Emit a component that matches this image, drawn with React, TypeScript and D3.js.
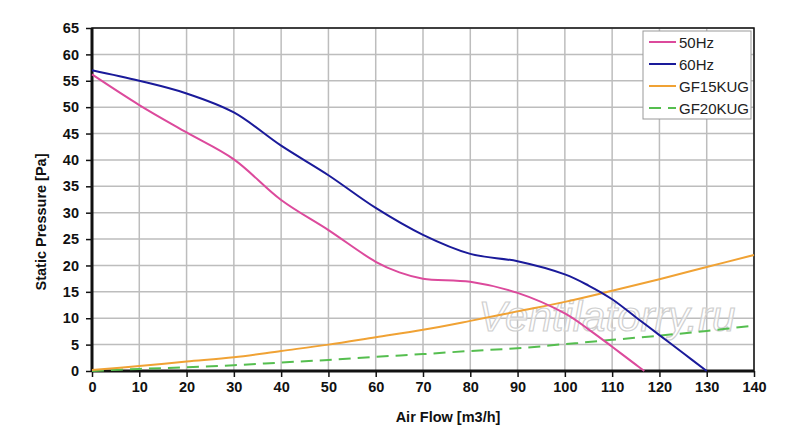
import { useRef, useEffect } from 'react';
import * as d3 from 'd3';

// Airflow points (m3/h) for each curve
const flow50 = [0, 10, 20, 30, 40, 50, 60, 65, 70, 80, 90, 100, 105, 110, 115, 116.8];
const pressure50 = [56.2, 50.4, 45.2, 40.1, 32.4, 26.7, 20.7, 18.7, 17.5, 16.9, 14.8, 10.9, 7.9, 4.6, 1.2, 0];

const flow60 = [0, 10, 20, 30, 40, 50, 60, 70, 80, 90, 100, 105, 110, 115, 120, 125, 130];
const pressure60 = [57, 55, 52.6, 49, 42.7, 37.1, 30.9, 25.8, 22.2, 20.8, 18.3, 16.2, 13.6, 10.2, 6.8, 3.4, 0];

const flowSys = [0, 10, 20, 30, 40, 50, 60, 70, 80, 90, 100, 110, 120, 130, 140];
const pressureGF15 = [0.2, 0.95, 1.8, 2.6, 3.8, 5.0, 6.4, 7.8, 9.5, 11.3, 13.1, 15.2, 17.4, 19.7, 22];
const pressureGF20 = [0, 0.4, 0.7, 1.1, 1.6, 2.1, 2.7, 3.2, 3.8, 4.3, 5.1, 5.9, 6.7, 7.6, 8.6];

const xTicks = d3.range(0, 141, 10);
const yTicks = d3.range(0, 66, 5);

const seriesNames = ['50Hz', '60Hz', 'GF15KUG', 'GF20KUG'];
const seriesColors = ['#dc4a9c', '#1a1a9a', '#f0a234', '#55be4f'];

export default function App() {
  const svgRef = useRef<SVGSVGElement>(null);

  useEffect(() => {
    if (!svgRef.current) return;
    const svg = d3.select(svgRef.current);
    svg.selectAll('*').remove();

    const left = 92, right = 754, top = 28, bottom = 371;
    const x = d3.scaleLinear().domain([0, 140]).range([left, right]);
    const y = d3.scaleLinear().domain([0, 65]).range([bottom, top]);
    const font = 'Liberation Sans, Arial, sans-serif';

    svg.append('rect').attr('width', 800).attr('height', 434).attr('fill', '#fff');

    // grid
    const grid = svg.append('g').attr('stroke', '#bdbdbd').attr('stroke-width', 1.5);
    xTicks.forEach((t) => {
      grid.append('line').attr('x1', x(t)).attr('x2', x(t)).attr('y1', top).attr('y2', bottom);
    });
    yTicks.forEach((t) => {
      grid.append('line').attr('x1', left).attr('x2', right).attr('y1', y(t)).attr('y2', y(t));
    });

    // watermark
    svg.append('text')
      .attr('x', 607)
      .attr('y', 331)
      .attr('text-anchor', 'middle')
      .attr('font-family', font)
      .attr('font-style', 'italic')
      .attr('font-size', 42)
      .attr('fill', 'rgba(255,255,255,0.6)')
      .attr('stroke', '#cfcfcf')
      .attr('stroke-width', 1.2)
      .text('Ventilatorry.ru');

    // frame
    svg.append('rect')
      .attr('x', left).attr('y', top)
      .attr('width', right - left).attr('height', bottom - top)
      .attr('fill', 'none').attr('stroke', '#111').attr('stroke-width', 1.5);
    svg.append('line').attr('x1', left).attr('x2', left).attr('y1', top).attr('y2', bottom + 1)
      .attr('stroke', '#111').attr('stroke-width', 3);
    svg.append('line').attr('x1', left).attr('x2', right).attr('y1', bottom).attr('y2', bottom)
      .attr('stroke', '#111').attr('stroke-width', 3);

    // axes
    const xAxis = svg.append('g')
      .attr('transform', `translate(0,${bottom})`)
      .call(d3.axisBottom(x).tickValues(xTicks).tickSize(6).tickPadding(5));
    const yAxis = svg.append('g')
      .attr('transform', `translate(${left},0)`)
      .call(d3.axisLeft(y).tickValues(yTicks).tickSize(6).tickPadding(7));
    [xAxis, yAxis].forEach((a) => {
      a.select('.domain').remove();
      a.selectAll('line').attr('stroke', '#111').attr('stroke-width', 1.5);
      a.selectAll('text')
        .attr('fill', '#111')
        .attr('font-family', font)
        .attr('font-size', 14.5)
        .attr('font-weight', 'bold');
    });

    // axis titles
    svg.append('text')
      .attr('x', 448)
      .attr('y', 422)
      .attr('text-anchor', 'middle')
      .attr('font-family', font)
      .attr('font-size', 14.5)
      .attr('font-weight', 'bold')
      .attr('fill', '#111')
      .text('Air Flow [m3/h]');
    svg.append('text')
      .attr('transform', 'translate(46,222) rotate(-90)')
      .attr('text-anchor', 'middle')
      .attr('font-family', font)
      .attr('font-size', 14.5)
      .attr('font-weight', 'bold')
      .attr('fill', '#111')
      .text('Static Pressure [Pa]');

    // curves
    const line = d3.line<[number, number]>()
      .x((d) => x(d[0]))
      .y((d) => y(d[1]))
      .curve(d3.curveCatmullRom.alpha(0.5));

    const series: [number[], number[], number][] = [
      [flowSys, pressureGF20, 3],
      [flowSys, pressureGF15, 2],
      [flow60, pressure60, 1],
      [flow50, pressure50, 0],
    ];
    series.forEach(([xs, ys, ci]) => {
      const pts = xs.map((v, j) => [v, ys[j]] as [number, number]);
      svg.append('path')
        .attr('d', line(pts) as string)
        .attr('fill', 'none')
        .attr('stroke', seriesColors[ci])
        .attr('stroke-width', 2)
        .attr('stroke-dasharray', ci === 3 ? '12,7' : null);
    });

    // legend
    const lg = svg.append('g');
    lg.append('rect')
      .attr('x', 643).attr('y', 31)
      .attr('width', 108).attr('height', 88)
      .attr('fill', '#fff').attr('stroke', '#999').attr('stroke-width', 1);
    seriesNames.forEach((name, i) => {
      const yy = 42 + i * 22;
      lg.append('line')
        .attr('x1', 649).attr('x2', 676)
        .attr('y1', yy).attr('y2', yy)
        .attr('stroke', seriesColors[i])
        .attr('stroke-width', 2)
        .attr('stroke-dasharray', i === 3 ? '12,7' : null);
      lg.append('text')
        .attr('x', 679).attr('y', yy + 5.5)
        .attr('font-family', font)
        .attr('font-size', 15)
        .attr('fill', '#222')
        .text(name);
    });
  }, []);

  return (
    <svg ref={svgRef} width={800} height={434} style={{ position: 'absolute', left: 0, top: 0 }} />
  );
}
